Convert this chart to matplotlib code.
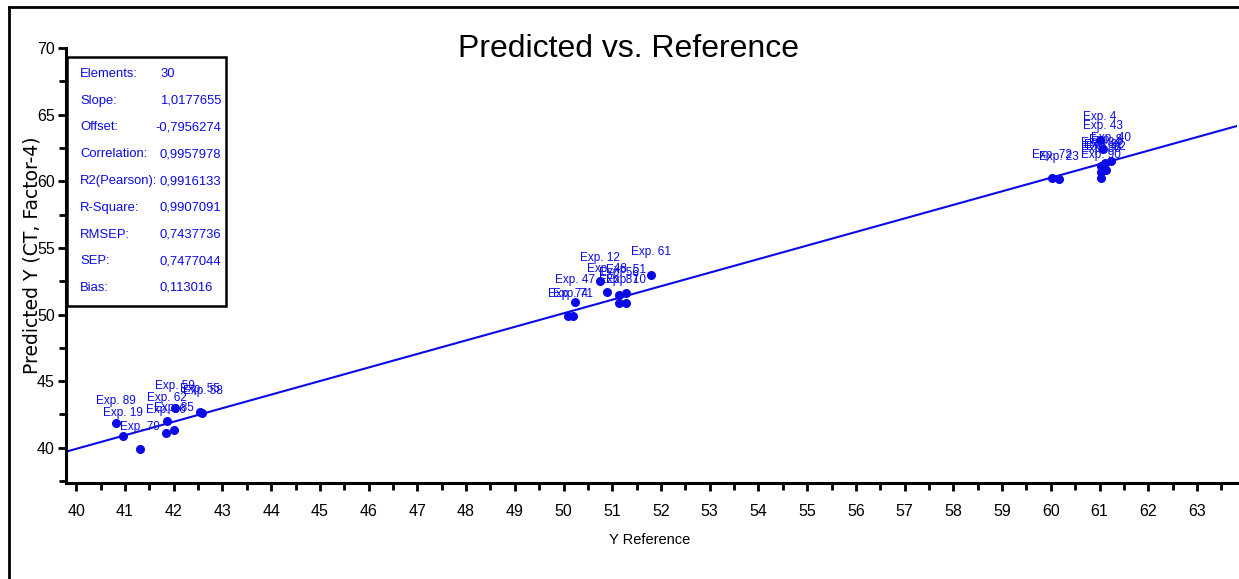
#!/usr/bin/env python3

import matplotlib
matplotlib.use('Agg')
import matplotlib.pyplot as plt
from matplotlib.lines import Line2D
from matplotlib.patches import Rectangle
from matplotlib.ticker import MultipleLocator


# samples: reference value, predicted value, label
y_ref = [40.82, 40.95, 41.31, 41.87, 41.85, 42.00, 42.02, 42.54, 42.59,
         50.09, 50.20, 50.24, 50.75, 50.89, 51.13, 51.14, 51.28, 51.28, 51.80,
         60.03, 60.17,
         61.01, 61.07, 61.23, 61.03, 61.09, 61.13, 61.03, 61.03, 61.12]
y_pred = [41.82, 40.89, 39.89, 42.02, 41.11, 41.32, 42.97, 42.69, 42.57,
          49.89, 49.89, 50.93, 52.55, 51.72, 51.47, 50.90, 51.65, 50.90, 52.98,
          60.28, 60.17,
          63.14, 62.46, 61.56, 61.18, 61.03, 60.88, 60.73, 60.28, 61.41]
names = ['Exp. 89', 'Exp. 19', 'Exp. 79', 'Exp. 62', 'Exp. 86', 'Exp. 85',
         'Exp. 59', 'Exp. 55', 'Exp. 58',
         'Exp. 74', 'Exp. 71', 'Exp. 47', 'Exp. 12', 'Exp. 48', 'Exp. 56',
         'Exp. 87', 'Exp. 51', 'Exp. 10', 'Exp. 61',
         'Exp. 72', 'Exp. 23',
         'Exp. 4', 'Exp. 43', 'Exp. 40', 'Exp. 84', 'Exp. 82', 'Exp. 92',
         'Exp. 80', 'Exp. 90', 'Exp. 8']

slope = 1.0177655
offset = -0.7956274

stat_names = ['Elements:', 'Slope:', 'Offset:', 'Correlation:', 'R2(Pearson):',
              'R-Square:', 'RMSEP:', 'SEP:', 'Bias:']
stat_values = ['30', '1,0177655', '-0,7956274', '0,9957978', '0,9916133',
               '0,9907091', '0,7437736', '0,7477044', '0,113016']

sans = ['Liberation Sans', 'DejaVu Sans']
blue = '#0a0ae6'

W, H = 1239, 579
fig = plt.figure(figsize=(W / 100, H / 100), dpi=100)
ax = fig.add_axes([66 / W, 1 - 483 / H, (1237 - 66) / W, (483 - 47.5) / H])

ax.axline((40, 40 * slope + offset), slope=slope, color=blue, lw=1.5)
ax.plot(y_ref, y_pred, 'o', color=blue, ms=5.5, zorder=3)
for x, y, t in zip(y_ref, y_pred, names):
    ax.annotate(t, (x, y), xytext=(0, 14), textcoords='offset points',
                ha='center', va='baseline', color=blue, fontsize=8.5,
                family=sans)

ax.set_xlim(39.79, 63.82)
ax.set_ylim(37.35, 70.05)
ax.xaxis.set_major_locator(MultipleLocator(1))
ax.xaxis.set_minor_locator(MultipleLocator(0.5))
ax.yaxis.set_major_locator(MultipleLocator(5))
ax.yaxis.set_minor_locator(MultipleLocator(2.5))
for s in ['top', 'right']:
    ax.spines[s].set_visible(False)
for s in ['left', 'bottom']:
    ax.spines[s].set_linewidth(2.2)
ax.tick_params(which='major', length=6, width=2, labelsize=11.5)
ax.tick_params(which='minor', length=5, width=2)
ax.tick_params(axis='x', which='major', pad=9)
ax.tick_params(axis='y', which='major', pad=2)
for lab in ax.get_xticklabels() + ax.get_yticklabels():
    lab.set_family(sans)
ax.patch.set_alpha(0)

fig.text(629 / W, 1 - 57 / H, 'Predicted vs. Reference', ha='center',
         va='baseline', fontsize=23, family=sans)
fig.text(650 / W, 1 - 540 / H, 'Y Reference', ha='center', va='center',
         fontsize=10.5, family=sans)
fig.text(32 / W, 1 - 255 / H, 'Predicted Y (CT, Factor-4)', ha='center',
         va='center', rotation=90, fontsize=13.5, family='DejaVu Sans')

# statistics box
fig.add_artist(Rectangle((67 / W, 1 - 306 / H), 159 / W, 249 / H,
                         transform=fig.transFigure, fill=True, fc='white',
                         ec='black', lw=1.8, zorder=5))
for i, (n, v) in enumerate(zip(stat_names, stat_values)):
    yy = 1 - (74 + 26.75 * i) / H
    fig.text(80 / W, yy, n, color=blue, fontsize=9.4, family=sans,
             va='center', zorder=6)
    xv = 155 if v.startswith('-') else 160
    fig.text(xv / W, yy, v, color=blue, fontsize=9.4, family=sans,
             va='center', zorder=6)

# outer frame
fig.add_artist(Line2D([9 / W, 9 / W], [0, 1 - 7 / H], color='black', lw=2,
                      transform=fig.transFigure))
fig.add_artist(Line2D([9 / W, 1], [1 - 7 / H, 1 - 7 / H], color='black', lw=2,
                      transform=fig.transFigure))

fig.savefig('out.png', dpi=100)
